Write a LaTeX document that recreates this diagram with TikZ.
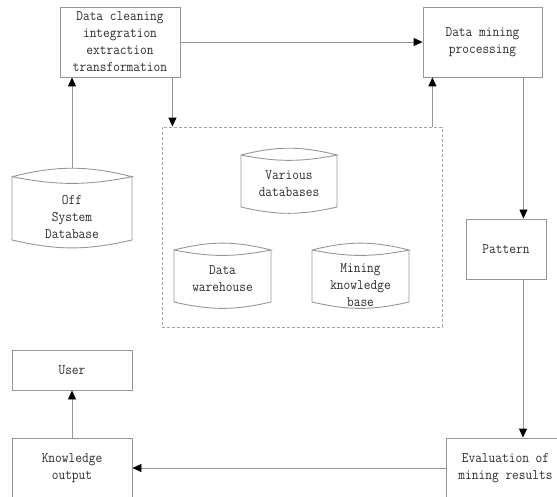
\documentclass[tikz,border=0pt]{standalone}
\usepackage{fontspec}
\usetikzlibrary{arrows.meta}
\newfontfamily\diagfont[FakeStretch=0.9]{Latin Modern Mono}
\definecolor{linegray}{RGB}{150,150,150}
\definecolor{dashgray}{RGB}{165,165,165}
\definecolor{txtgray}{RGB}{45,45,45}
\tikzset{
  every node/.style={font=\diagfont\fontsize{14.5}{17}\selectfont, text=txtgray, align=center},
  procbox/.style={draw=linegray, line width=0.9pt, inner sep=0pt},
  dbtext/.style={inner sep=0pt},
  dbline/.style={draw=linegray, line width=0.9pt},
  storebox/.style={draw=dashgray, line width=0.8pt, dash pattern=on 3pt off 2pt},
  flow/.style={draw=linegray, line width=0.9pt, -{Triangle[width=8pt,length=9pt,color=black]}}
}
% drum outline: left x, right x, top corner y, bottom corner y
\newcommand\drum[4]{%
  \draw[dbline] (#1,#3) to[bend left=14] (#2,#3) to[bend left=11] (#1,#3)
    -- (#1,#4) to[bend right=13] (#2,#4) -- (#2,#3);}
\begin{document}
\begin{tikzpicture}[x=1pt,y=-1pt]
\useasboundingbox (0,0) rectangle (557,497);
\clip (0,0) rectangle (557,497);

% process boxes
\node[procbox, minimum width=120pt, minimum height=70pt] (clean) at (120,42)
  {Data cleaning\\integration\\extraction\\transformation};
\node[procbox, minimum width=119pt, minimum height=70pt] (mine) at (482.5,42)
  {Data mining\\processing};
\node[procbox, minimum width=80pt, minimum height=60pt] (pattern) at (506,249) {Pattern};
\node[procbox, minimum width=119pt, minimum height=60pt] (eval) at (505.5,468)
  {Evaluation of\\mining results};
\node[procbox, minimum width=120pt, minimum height=60pt] (know) at (72,468)
  {Knowledge\\output};
\node[procbox, minimum width=120pt, minimum height=40pt] (user) at (72,370) {User};

% data store group
\node[storebox, minimum width=280pt, minimum height=200pt] (store) at (302,227) {};

% databases
\drum{12}{132}{176.7}{240}
\coordinate (offtop) at (72,168.3);
\node[dbtext] (offdb) at (72,217.5) {Off\\System\\Database};

\drum{241}{337}{155}{207}
\node[dbtext] (various) at (289,183.5) {Various\\databases};

\drum{174}{271}{250}{302}
\node[dbtext] (warehouse) at (222.5,278.5) {Data\\warehouse};

\drum{312}{409}{250}{302}
\node[dbtext] (kbase) at (360.5,285) {Mining\\knowledge\\base};

% connectors
\draw[flow] (offtop) -- (offtop |- clean.south);
\draw[flow] (clean.east) -- (mine.west);
\draw[flow] ([xshift=-8pt]clean.south east) -- ([xshift=-8pt]clean.south east |- store.north);
\draw[flow] ([xshift=-10pt]store.north east) -- ([xshift=-10pt]store.north east |- mine.south);
\draw[flow] ([xshift=-19pt]mine.south east) -- ([xshift=-19pt]mine.south east |- pattern.north);
\draw[flow] ([xshift=17pt]pattern.south) -- ([xshift=17pt]pattern.south |- eval.north);
\draw[flow] (eval.west) -- (know.east);
\draw[flow] (know.north) -- (user.south);
\end{tikzpicture}
\end{document}
